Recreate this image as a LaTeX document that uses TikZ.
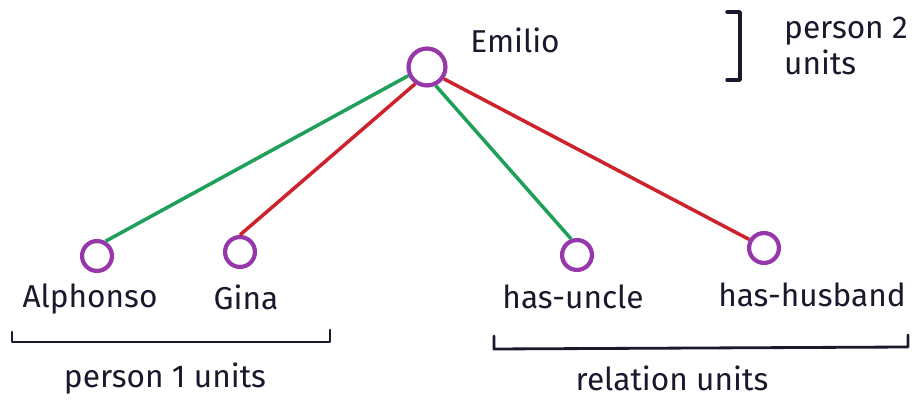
\documentclass[tikz,border=0pt]{standalone}
\usepackage{fontspec}
\setmainfont{Fira Sans}
\definecolor{inkgreen}{RGB}{30,160,90}
\definecolor{inkred}{RGB}{205,35,45}
\definecolor{inkpurple}{RGB}{150,55,170}
\definecolor{ink}{RGB}{25,25,45}
\tikzset{
  unit/.style={circle, draw=inkpurple, line width=2.4pt, minimum size=17pt, inner sep=0pt},
  lbl/.style={text=ink, font=\fontsize{18}{20}\selectfont},
  brace/.style={draw=ink, line width=1.6pt, line join=round, line cap=round},
  haslink/.style={line width=2pt}
}
\begin{document}
\begin{tikzpicture}[x=0.02cm, y=-0.02cm]
    \clip (0,0) rectangle (916,404);
    \fill[white] (0,0) rectangle (916,404);

    %%%%%%%%%%%%%%%%%%%%%%%%%%%%%%%%%%%%%%%%%%%%%%
    % Units
    %%%%%%%%%%%%%%%%%%%%%%%%%%%%%%%%%%%%%%%%%%%%%%
    \node[unit, minimum size=21pt] (emilio) at (427,67) {};
    \node[unit] (alphonso) at (97,256) {};
    \node[unit] (gina) at (240,252) {};
    \node[unit] (uncle) at (577,255) {};
    \node[unit] (husband) at (764,248) {};

    % Labels
    \node[lbl] (emiliotxt) at (515,40) {Emilio};
    \node[lbl] (alphonsotxt) at (90,299) {Alphonso};
    \node[lbl] (ginatxt) at (246,297) {Gina};
    \node[lbl] (uncletxt) at (573,297) {has-uncle};
    \node[lbl] (husbandtxt) at (812,295) {has-husband};

    %%%%%%%%%%%%%%%%%%%%%%%%%%%%%%%%%%%%%%%%%%%%%%
    % Connections: green and red
    %%%%%%%%%%%%%%%%%%%%%%%%%%%%%%%%%%%%%%%%%%%%%%
    \draw[haslink, inkgreen] (emilio.205) -- (alphonso.60);
    \draw[haslink, inkred] (emilio.235) -- (gina.90);
    \draw[haslink, inkgreen] (emilio.295) -- (uncle.110);
    \draw[haslink, inkred] (emilio.325) -- (husband.150);

    %%%%%%%%%%%%%%%%%%%%%%%%%%%%%%%%%%%%%%%%%%%%%%
    % Groups
    %%%%%%%%%%%%%%%%%%%%%%%%%%%%%%%%%%%%%%%%%%%%%%
    % top right
    \coordinate (tr1) at (727,12);
    \coordinate (tr2) at (727,80);
    \draw[brace, line width=2pt] (tr1) -- (740,12) -- (740,80) -- (tr2);
    \node[lbl, align=left, anchor=west] (toptxt) at (778,46) {person 2\\units};

    % bottom left
    \coordinate (bl1) at (12,332);
    \coordinate (bl2) at (330,330);
    \draw[brace] (bl1) -- (12,342) -- (330,342) -- (bl2);
    \node[lbl] (leftgrp) at (165,379) {person 1 units};

    % bottom right
    \coordinate (br1) at (494,336);
    \coordinate (br2) at (908,335);
    \draw[brace] (br1) -- (494,349) -- (908,347) -- (br2);
    \node[lbl] (rightgrp) at (672,378) {relation units};
\end{tikzpicture}
\end{document}
